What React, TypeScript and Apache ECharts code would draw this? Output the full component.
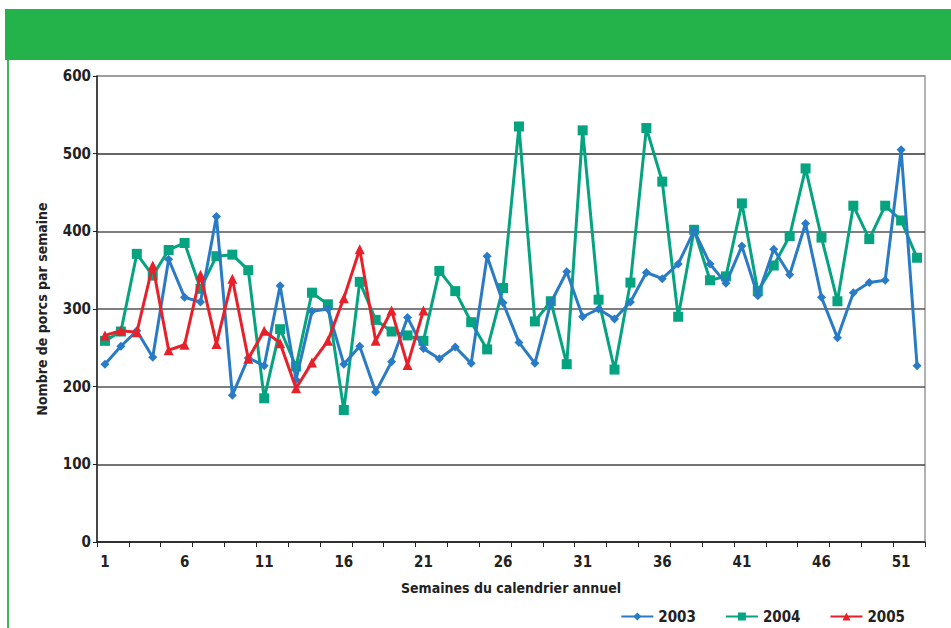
import React, { useEffect, useRef } from "react";
import * as echarts from "echarts";

const weeks: string[] = Array.from({ length: 52 }, (_, i) => String(i + 1));

const y2003: number[] = [
  229, 252, 272, 238, 364, 315, 309, 419, 189, 237,
  227, 330, 209, 297, 300, 229, 252, 193, 232, 289,
  249, 236, 251, 230, 368, 308, 257, 230, 308, 348,
  290, 300, 287, 309, 347, 339, 358, 401, 358, 333,
  381, 317, 377, 344, 410, 315, 263, 321, 334, 337,
  505, 227,
];

const y2004: number[] = [
  259, 271, 371, 343, 376, 385, 326, 368, 370, 350,
  185, 274, 226, 321, 306, 170, 335, 286, 271, 266,
  259, 349, 323, 283, 248, 327, 535, 284, 310, 229,
  530, 312, 222, 334, 533, 464, 290, 402, 337, 342,
  436, 323, 356, 394, 481, 392, 310, 433, 390, 433,
  414, 366,
];

const y2005: (number | null)[] = [
  266, 272, 270, 356, 247, 254, 344, 255, 339, 236,
  272, 256, 198, 231, 259, 314, 377, 259, 298, 228,
  298,
];

const yTicks = { min: 0, max: 600, interval: 100 };

const FONT = "'DejaVu Sans Condensed', 'DejaVu Sans', sans-serif";

export default function App() {
  const ref = useRef<HTMLDivElement>(null);
  useEffect(() => {
    if (!ref.current) return;
    const chart = echarts.init(ref.current, null, { renderer: "svg" });
    const labelStyle = { fontFamily: FONT, fontWeight: "bold" as const, fontSize: 15, color: "#222" };
    chart.setOption({
      animation: false,
      backgroundColor: "#fff",
      graphic: [
        { type: "rect", shape: { x: 5, y: 9, width: 946, height: 51 }, style: { fill: "#24b24b" } },
        { type: "rect", shape: { x: 7, y: 60, width: 2, height: 568 }, style: { fill: "#3cb85a" } },
      ],
      grid: { left: 97, right: 26, top: 76, bottom: 86, show: true, borderColor: "#999", borderWidth: 1.5 },
      legend: {
        right: 41,
        top: 604,
        itemGap: 29,
        itemWidth: 32,
        itemHeight: 10,
        textStyle: { ...labelStyle, fontSize: 15 },
        data: ["2003", "2004", "2005"],
      },
      xAxis: {
        type: "category",
        data: weeks,
        boundaryGap: true,
        name: "Semaines du calendrier annuel",
        nameLocation: "middle",
        nameGap: 39,
        nameTextStyle: { ...labelStyle, fontSize: 14 },
        axisLine: { lineStyle: { color: "#222", width: 1.5 } },
        axisTick: { show: true, interval: 1, length: 5, lineStyle: { color: "#222" } },
        axisLabel: { ...labelStyle, interval: 4, margin: 12 },
        splitLine: { show: false },
      },
      yAxis: {
        type: "value",
        min: yTicks.min,
        max: yTicks.max,
        interval: yTicks.interval,
        name: "Nombre de porcs par semaine",
        nameLocation: "middle",
        nameGap: 48,
        nameTextStyle: { ...labelStyle, fontSize: 14 },
        axisLine: { show: true, lineStyle: { color: "#222", width: 1.5 } },
        axisTick: { show: true, length: 4, lineStyle: { color: "#222" } },
        axisLabel: { ...labelStyle, margin: 6 },
        splitLine: {
          show: true,
          lineStyle: { color: ["#444", "#444", "#555", "#555", "#555", "#333", "#999"], width: 1.5 },
        },
      },
      series: [
        {
          name: "2003",
          type: "line",
          data: y2003,
          symbol: "diamond",
          symbolSize: 9,
          itemStyle: { color: "#2a7bc6" },
          lineStyle: { color: "#2a7bc6", width: 3 },
          z: 3,
        },
        {
          name: "2004",
          type: "line",
          data: y2004,
          symbol: "rect",
          symbolSize: 10,
          itemStyle: { color: "#05a37f" },
          lineStyle: { color: "#05a37f", width: 3 },
          z: 2,
        },
        {
          name: "2005",
          type: "line",
          data: y2005,
          symbol: "triangle",
          symbolSize: 10,
          itemStyle: { color: "#e8202a" },
          lineStyle: { color: "#e8202a", width: 3 },
          z: 4,
        },
      ],
    });
    return () => chart.dispose();
  }, []);
  return (
    <div
      ref={ref}
      style={{ position: "absolute", left: 0, top: 0, width: 951, height: 628 }}
    />
  );
}
